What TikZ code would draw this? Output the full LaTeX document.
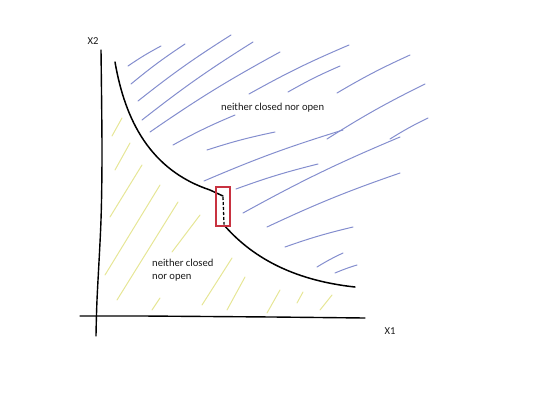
\documentclass[tikz,border=0pt]{standalone}
\usepackage{fontspec}
\setmainfont{Carlito}
\definecolor{myblue}{RGB}{132,142,206}
\definecolor{myyellow}{RGB}{230,230,150}
\definecolor{myred}{RGB}{200,50,64}
\tikzstyle{hatchb}=[myblue,line width=1pt,line cap=round]
\tikzstyle{hatchy}=[myyellow,line width=1pt,line cap=round]
\tikzstyle{axis}=[black,line width=1.4pt,line cap=round]
\tikzstyle{bound}=[black,line width=1.5pt,line cap=round]
\tikzstyle{lbl}=[font=\fontsize{10.6}{12.6}\selectfont,text=black!90,inner sep=0]

\begin{document}
\begin{tikzpicture}[x=1pt,y=-1pt]
  \useasboundingbox (0,0) rectangle (540,405);
  % hatching, upper region
  \foreach \xa/\ya/\xb/\yb in {128/66/161/46, 131/84/185/44, 138/101/231/35, 142/120/253/42,
      150/132/280/52, 249/94/349/45, 288/92/340/66, 337/93/410/55, 173/145/235/115,
      207/150/275/132, 327/139/425/84, 390/139/428/118, 204/181/343/130, 236/189/318/164,
      243/213/400/137, 267/227/400/173, 285/247/353/227, 317/267/343/253, 335/273/357/265}
    \draw[hatchb] (\xa,\ya) to[bend left=3] (\xb,\yb);
  % hatching, lower region
  \foreach \xa/\ya/\xb/\yb in {112/136/122/118, 115/170/130/143, 110/217/142/165, 105/275/160/185,
      117/300/178/202, 172/252/200/215, 152/310/160/298, 202/305/232/258, 227/310/245/277,
      267/313/280/290, 297/303/303/292, 320/310/332/295}
    \draw[hatchy] (\xa,\ya) -- (\xb,\yb);
  % axes
  \draw[axis] plot[smooth] coordinates {(101,50) (102,150) (101,220) (97,300) (96,336)};
  \draw[axis] (80,316) -- (143,316) -- (273,317) -- (365,318);
  \node[lbl] (xtwo) at (93,41) {X2};
  \node[lbl] (xone) at (390,331) {X1};
  % boundary curve
  \draw[bound] (115,62) .. controls (125,120) and (150,170) .. (210,190) -- (223,196);
  \draw[black,line width=1.3pt,dash pattern=on 3pt off 2pt] (223,197) -- (224,224);
  \draw[bound] (224,225) .. controls (250,255) and (290,280) .. (355,287);
  \draw[myred,line width=1.2pt] (216,187) rectangle (230,226);
  % labels
  \node[lbl,anchor=base west] (upper) at (221,110) {neither closed nor open};
  \node[lbl,anchor=north west,align=left] (lower) at (152,259) {neither closed\\nor open};
\end{tikzpicture}
\end{document}
